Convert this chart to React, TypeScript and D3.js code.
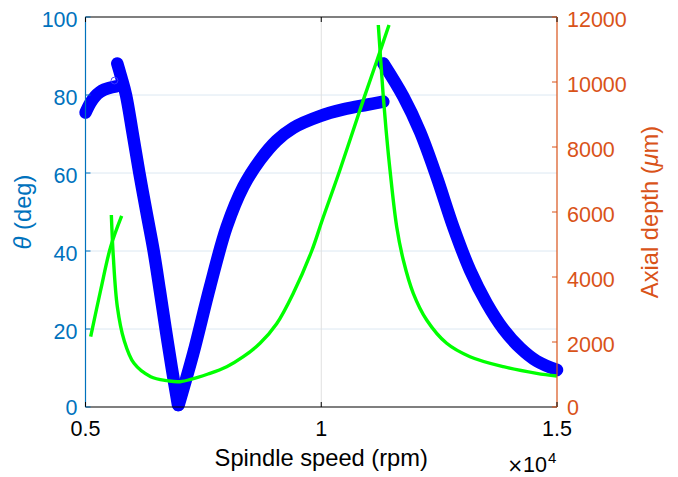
import React, { useEffect } from 'react';
import * as d3 from 'd3';

// ---- Axis ticks ----
const speedTicks = [5000, 10000, 15000];
const speedTickLabels = ['0.5', '1', '1.5'];
const thetaTicks = [0, 20, 40, 60, 80, 100];
const depthTicks = [0, 2000, 4000, 6000, 8000, 10000, 12000];

// ---- Blue series: phase angle theta (deg) vs spindle speed (rpm) ----
const thetaSeg1Speed = [5000, 5100, 5200, 5300, 5400, 5500, 5650];
const thetaSeg1 = [75.5, 77.9, 79.6, 80.7, 81.4, 81.8, 82.2];

const thetaSeg2Speed = [5674, 5760, 5859, 6000, 6142, 6300, 6446, 6575, 6700, 6830, 6962];
const thetaSeg2 = [88.1, 84.5, 80, 70.2, 60, 49.5, 40, 30, 20, 10, 0.5];

const thetaSeg3Speed = [6975, 7287, 7640, 7995, 8347, 8701, 9054, 9407, 9973, 10467, 10964, 11316];
const thetaSeg3 = [0.5, 13.8, 30.8, 46.2, 56.5, 63.3, 68.3, 71.6, 74.6, 76.3, 77.5, 78.3];

const thetaSeg4Speed = [11316, 11740, 12094, 12448, 12800, 13155, 13509, 13861, 14215, 14569, 15000];
const thetaSeg4 = [88.1, 79.6, 70.6, 59, 46.2, 35.1, 26.6, 20.0, 15.2, 11.8, 9.5];

const strayPointSpeed = [5615];
const strayPointTheta = [83.7];

// ---- Green series: axial depth (um) vs spindle speed (rpm) ----
const lobeASpeed = [5110, 5322, 5534, 5767];
const lobeA = [2163, 3600, 4932, 5877];

const lobeBSpeed = [5548, 5590, 5675, 5817, 6029, 6383, 6735, 7004, 7640, 7995, 8347, 8701, 9054, 9407, 9797, 10022, 10398, 10893, 11176, 11437];
const lobeB = [5908, 4625, 3086, 2062, 1344, 933, 810, 779, 1036, 1240, 1548, 1960, 2560, 3500, 4800, 5754, 7300, 9450, 10640, 11754];

const lobeCSpeed = [11210, 11316, 11388, 11458, 11600, 11740, 11952, 12236, 12660, 13155, 13861, 14569, 15000];
const lobeC = [11754, 9548, 8317, 7292, 5548, 4523, 3498, 2677, 1960, 1548, 1240, 1036, 954];

const W = 678;
const H = 477;
const L = 85.5;
const R = 557;
const T = 17;
const B = 407;

const FONT = '"Liberation Sans", Arial, Helvetica, sans-serif';
const LEFT_COLOR = '#0072BD';
const RIGHT_COLOR = '#D95319';

export default function App() {
  useEffect(() => {
    document.body.style.margin = '0';
  }, []);

  const x = d3.scaleLinear().domain([5000, 15000]).range([L, R]);
  const yL = d3.scaleLinear().domain([0, 100]).range([B, T]);
  const yR = d3.scaleLinear().domain([0, 12000]).range([B, T]);

  const zip = (xs: number[], ys: number[]) => xs.map((v, i) => [v, ys[i]] as [number, number]);

  const curve = d3.curveCatmullRom.alpha(0.5);
  const lineL = d3
    .line<[number, number]>()
    .x((d) => x(d[0]))
    .y((d) => yL(d[1]))
    .curve(curve);
  const lineR = d3
    .line<[number, number]>()
    .x((d) => x(d[0]))
    .y((d) => yR(d[1]))
    .curve(curve);

  const blueSegs = [
    zip(thetaSeg1Speed, thetaSeg1),
    zip(thetaSeg2Speed, thetaSeg2),
    zip(thetaSeg3Speed, thetaSeg3),
    zip(thetaSeg4Speed, thetaSeg4),
  ];
  const greenSegs = [zip(lobeASpeed, lobeA), zip(lobeBSpeed, lobeB), zip(lobeCSpeed, lobeC)];

  const tickLen = 5;

  return (
    <svg width={W} height={H} style={{ position: 'absolute', left: 0, top: 0, background: '#fff' }} fontFamily={FONT}>
      <rect x={0} y={0} width={W} height={H} fill="#fff" />
      {/* grid */}
      {thetaTicks
        .filter((t) => t > 0 && t < 100)
        .map((t) => (
          <line key={'gy' + t} x1={L} x2={R} y1={yL(t)} y2={yL(t)} stroke="#dce8f2" strokeWidth={1} />
        ))}
      {speedTicks
        .filter((t) => t > 5000 && t < 15000)
        .map((t) => (
          <line key={'gx' + t} x1={x(t)} x2={x(t)} y1={T} y2={B} stroke="#e0e0e0" strokeWidth={1} />
        ))}

      {/* blue markers ribbon */}
      {blueSegs.map((s, i) => (
        <path
          key={'b' + i}
          d={lineL(s) || ''}
          fill="none"
          stroke="#0000ff"
          strokeWidth={12.5}
          strokeLinecap="round"
          strokeLinejoin="round"
        />
      ))}
      {strayPointSpeed.map((s, i) => (
        <circle key={'sp' + i} cx={x(s)} cy={yL(strayPointTheta[i])} r={3.4} fill="none" stroke="#3a3aff" strokeWidth={0.9} />
      ))}

      {/* green lobes */}
      {greenSegs.map((s, i) => (
        <path key={'g' + i} d={lineR(s) || ''} fill="none" stroke="#00ff00" strokeWidth={3.4} />
      ))}

      {/* box */}
      <line x1={L} x2={R} y1={T} y2={T} stroke="#000" strokeWidth={1.2} />
      <line x1={L} x2={R} y1={B} y2={B} stroke="#000" strokeWidth={1.2} />
      <line x1={L} x2={L} y1={T} y2={B} stroke={LEFT_COLOR} strokeWidth={1.2} />
      <line x1={R} x2={R} y1={T} y2={B} stroke={RIGHT_COLOR} strokeWidth={1.2} />

      {/* x ticks */}
      {speedTicks.map((t, i) => (
        <g key={'xt' + t}>
          <line x1={x(t)} x2={x(t)} y1={B} y2={B - tickLen} stroke="#000" strokeWidth={1} />
          <line x1={x(t)} x2={x(t)} y1={T} y2={T + tickLen} stroke="#000" strokeWidth={1} />
          <text x={x(t)} y={436} fontSize={21.5} textAnchor="middle" fill="#000">
            {speedTickLabels[i]}
          </text>
        </g>
      ))}
      <text x={547} y={472} fontSize={21.5} textAnchor="end" fill="#000">
        <tspan fontFamily='"DejaVu Sans", sans-serif' fontSize={19}>×</tspan>10
      </text>
      <text x={548} y={463.3} fontSize={15} fill="#000">
        4
      </text>

      {/* left ticks */}
      {thetaTicks.map((t) => (
        <g key={'yl' + t}>
          <line x1={L} x2={L + tickLen} y1={yL(t)} y2={yL(t)} stroke={LEFT_COLOR} strokeWidth={1} />
          <text x={77.5} y={yL(t) + (t === 0 ? 8 : 9.7)} fontSize={21.5} textAnchor="end" fill={LEFT_COLOR}>
            {t}
          </text>
        </g>
      ))}

      {/* right ticks */}
      {depthTicks.map((t) => (
        <g key={'yr' + t}>
          <line x1={R} x2={R - tickLen} y1={yR(t)} y2={yR(t)} stroke={RIGHT_COLOR} strokeWidth={1} />
          <text x={567} y={yR(t) + (t === 0 ? 8 : 9.7)} fontSize={21.5} textAnchor="start" fill={RIGHT_COLOR}>
            {t}
          </text>
        </g>
      ))}

      {/* axis labels */}
      <text x={(L + R) / 2} y={466} fontSize={23.7} textAnchor="middle" fill="#000">
        Spindle speed (rpm)
      </text>
      <text transform={`translate(31, ${(T + B) / 2}) rotate(-90)`} fontSize={23.7} textAnchor="middle" fill={LEFT_COLOR}>
        <tspan fontStyle="italic">θ</tspan> (deg)
      </text>
      <text transform={`translate(658, ${(T + B) / 2}) rotate(-90)`} fontSize={23.7} textAnchor="middle" fill={RIGHT_COLOR}>
        Axial depth (<tspan fontStyle="italic">μ</tspan>m)
      </text>
    </svg>
  );
}
